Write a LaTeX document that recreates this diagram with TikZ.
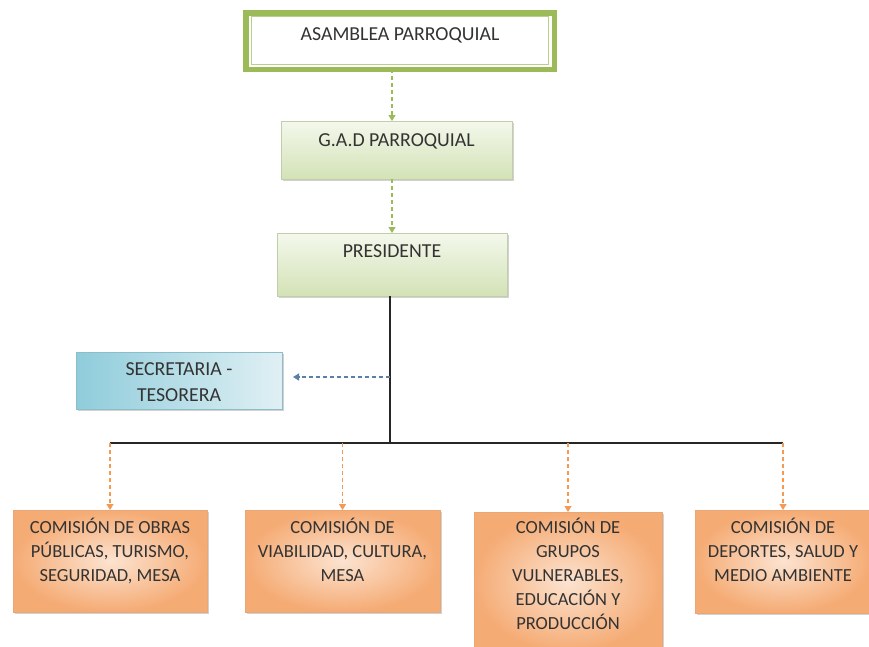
\documentclass[tikz,border=0pt]{standalone}
\usepackage{fontspec}
\setmainfont{Carlito}
\usetikzlibrary{arrows.meta,shadows,calc}
\definecolor{grn}{HTML}{9BBB59}
\definecolor{grnl}{HTML}{B9D08A}
\definecolor{gtop}{HTML}{F4F8EC}
\definecolor{gbot}{HTML}{D3E2B6}
\definecolor{bleft}{HTML}{8FCCDB}
\definecolor{bright}{HTML}{E0F0F4}
\definecolor{oout}{HTML}{F5AB74}
\definecolor{oin}{HTML}{FCE3D0}
\definecolor{ora}{HTML}{F59A55}
\definecolor{blu}{HTML}{5B7FA6}
\definecolor{txt}{HTML}{333333}
\tikzset{
  boxbase/.style={rectangle, inner sep=0pt, outer sep=0pt, anchor=north west,
    drop shadow={shadow xshift=1.5pt, shadow yshift=-2pt, opacity=0.35, fill=gray}},
  gbox/.style={boxbase, top color=gtop, bottom color=gbot, draw=gbot!80!gray, line width=0.4pt},
  bbox/.style={boxbase, left color=bleft, right color=bright, draw=bleft!80!gray, line width=0.4pt},
  obox/.style={boxbase, inner color=oin, outer color=oout, shading=radial, draw=oout!90!gray, line width=0.4pt},
  lbl/.style={anchor=north, inner sep=0pt, align=center, text=txt,
    font=\fontsize{18.5}{24}\selectfont},
  toplbl/.style={lbl, font=\fontsize{19.8}{26}\selectfont},
  garrow/.style={draw=grn, line width=1.2pt, dash pattern=on 4pt off 3pt, -{Triangle[length=6pt,width=7pt]}},
  oarrow/.style={draw=ora, line width=1.1pt, dash pattern=on 4pt off 3pt, -{Triangle[length=6pt,width=7pt]}},
  barrow/.style={draw=blu, line width=1.2pt, dash pattern=on 4pt off 3pt, -{Triangle[length=6pt,width=7pt]}},
  solidline/.style={draw=black!85, line width=1.2pt},
}
\newcommand{\st}{\rule{0pt}{16pt}}
\begin{document}
\begin{tikzpicture}[x=1pt,y=-1pt]
\useasboundingbox[fill=white] (0,0) rectangle (869,646);

% Asamblea
\node[rectangle, inner sep=0pt, outer sep=0pt, anchor=north west, draw=grn, line width=5.5pt, fill=white,
  minimum width=308.5pt, minimum height=56.5pt] (asm) at (245.75,12.75) {};
\draw[grnl, line width=1.2pt] ($(asm.north west)+(5.5,4)$) rectangle ($(asm.south east)+(-5.5,-5)$);
\node[toplbl] (asmt) at (400,24) {\st ASAMBLEA PARROQUIAL};

% GAD
\node[gbox, minimum width=231pt, minimum height=58pt] (gad) at (281,121) {};
\node[toplbl] (gadt) at (gad.north |- 0,130) {\st G.A.D PARROQUIAL};

% Presidente
\node[gbox, minimum width=230pt, minimum height=63pt] (pres) at (277,233) {};
\node[toplbl] (prest) at (pres.north |- 0,241) {\st PRESIDENTE};

% Secretaria
\node[bbox, minimum width=206pt, minimum height=57pt] (sec) at (76,352) {};
\node[toplbl] (sect) at (sec.north |- 0,359) {\st SECRETARIA -\\TESORERA};

% Comisiones
\node[obox, minimum width=194pt, minimum height=102pt] (c1) at (13,510) {};
\node[lbl] (c1t) at (c1.north |- 0,517) {\st COMISIÓN DE OBRAS\\PÚBLICAS, TURISMO,\\SEGURIDAD, MESA};

\node[obox, minimum width=195pt, minimum height=102pt] (c2) at (245,510) {};
\node[lbl] (c2t) at (c2.north |- 0,517) {\st COMISIÓN DE\\VIABILIDAD, CULTURA,\\MESA};

\node[obox, minimum width=188pt, minimum height=140pt] (c3) at (474,512) {};
\node[lbl] (c3t) at (c3.north |- 0,517) {\st COMISIÓN DE\\GRUPOS\\VULNERABLES,\\EDUCACIÓN Y\\PRODUCCIÓN};

\node[obox, minimum width=176pt, minimum height=103pt] (c4) at (695,510) {};
\node[lbl] (c4t) at (c4.north |- 0,517) {\st COMISIÓN DE\\DEPORTES, SALUD Y\\MEDIO AMBIENTE};

% connectors
\draw[garrow] ([xshift=-4.5pt]gad.north |- asm.south) -- ([xshift=-4.5pt]gad.north);
\draw[garrow] (gad.south -| pres.north) -- (pres.north);

\coordinate (bus) at (390,443);
\coordinate (busL) at (c1.north |- bus);
\coordinate (busR) at (c4.north |- bus);
\draw[solidline] (pres.south -| bus) -- (bus);
\draw[solidline] (busL) -- (busR);

\draw[barrow] (bus |- 0,377) -- ([xshift=11pt]sec.east |- 0,377);

\draw[oarrow] (busL) -- (c1.north);
\draw[oarrow] (c2.north |- bus) -- (c2.north);
\draw[oarrow] (c3.north |- bus) -- (c3.north);
\draw[oarrow] (busR) -- (c4.north);
\end{tikzpicture}
\end{document}
